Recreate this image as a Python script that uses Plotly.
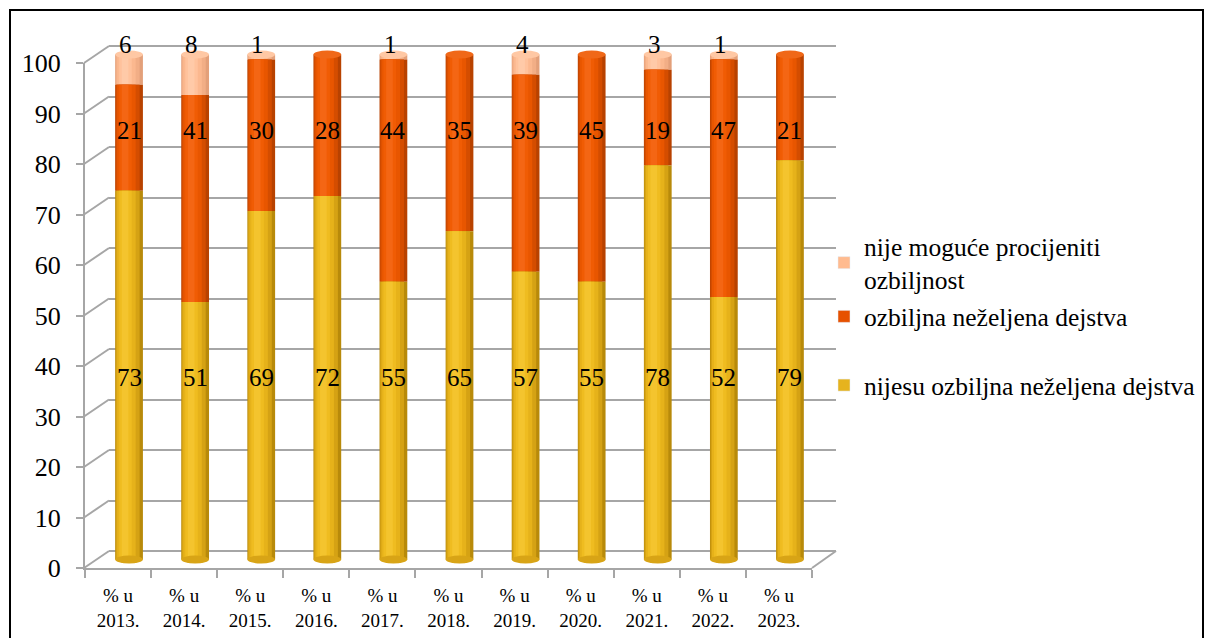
import plotly.graph_objects as go

# ---------------- data ----------------
categories = ["% u<br>2013.", "% u<br>2014.", "% u<br>2015.", "% u<br>2016.", "% u<br>2017.",
              "% u<br>2018.", "% u<br>2019.", "% u<br>2020.", "% u<br>2021.", "% u<br>2022.",
              "% u<br>2023."]
nijesu_ozbiljna = [73, 51, 69, 72, 55, 65, 57, 55, 78, 52, 79]
ozbiljna = [21, 41, 30, 28, 44, 35, 39, 45, 19, 47, 21]
nije_moguce = [6, 8, 1, 0, 1, 0, 4, 0, 3, 1, 0]
y_ticks = [0, 10, 20, 30, 40, 50, 60, 70, 80, 90, 100]

series_names = ["nije moguće procijeniti<br>ozbiljnost", "ozbiljna neželjena dejstva",
                "nijesu ozbiljna neželjena dejstva"]

# ---------------- geometry helpers (pixels -> paper) ----------------
W, H = 1206, 638
FONT = '"Liberation Serif", "Times New Roman", Times, serif'
GRID = "#A6A6A6"


def px(x):
    return x / W


def py(y):
    return 1 - y / H


def ydom(lo, hi, p0, p100):
    s = (p0 - p100) / 100.0
    return [py(p0 - lo * s), py(p0 - hi * s)]


FRONT = dict(x0=85, x1=812, p0=568, p100=63)
BARS = dict(x0=96, x1=823, p0=559.5, p100=54.5)
BACK = dict(x0=109, x1=836, p0=551, p100=46)

n = len(categories)
xs = list(range(n))

fig = go.Figure()

# invisible trace for the back-wall grid subplot (xy)
fig.add_trace(go.Scatter(x=[0], y=[0], xaxis="x", yaxis="y", mode="markers",
                         marker=dict(opacity=0), showlegend=False, hoverinfo="skip"))

# ---------------- cylinders (stacked bars with shading layers) ----------------
bw = 0.42
base_y = [0] * n
base_o = list(nijesu_ozbiljna)
base_p = [a + b for a, b in zip(nijesu_ozbiljna, ozbiljna)]

palettes = {
    "p": ["#E3A07A", "#F2AE86", "#FBB88F", "#FFC29C", "#FFCAA8"],
    "o": ["#B84200", "#D44D00", "#E85600", "#F05C04", "#F46614"],
    "y": ["#B88A0A", "#D5A214", "#E6B21A", "#EFBC20", "#F4C42E"],
}
# (offset, width) from left edge of cylinder in bar units
layers = [(-0.21, 0.42), (-0.20, 0.36), (-0.18, 0.28), (-0.15, 0.19), (-0.11, 0.10)]
legend_col = {"p": "#FFBB8F", "o": "#E65100", "y": "#E6B31E"}

for key, vals, base, name, leg in [("p", nije_moguce, base_p, series_names[0], "legend"),
                                  ("o", ozbiljna, base_o, series_names[1], "legend"),
                                  ("y", nijesu_ozbiljna, base_y, series_names[2], "legend2")]:
    for li, (off, wid) in enumerate(layers):
        fig.add_trace(go.Bar(
            x=xs, y=vals, base=base, xaxis="x2", yaxis="y2",
            offset=off, width=wid,
            marker=dict(color=palettes[key][li], line=dict(width=0)),
            name=name, legendgroup=key, legend=leg,
            showlegend=False, hoverinfo="skip"))
    # legend entry
    fig.add_trace(go.Bar(x=[None], y=[None], xaxis="x2", yaxis="y2", name=name,
                         marker=dict(color=legend_col[key]), legendgroup=key,
                         legend=leg, showlegend=True))

shapes = []
# top & bottom ellipses of cylinders
for i in xs:
    top_col = "#FFC8A4" if nije_moguce[i] > 0 else "#F06818"
    top_val = nijesu_ozbiljna[i] + ozbiljna[i] + nije_moguce[i]
    shapes.append(dict(type="circle", xref="x2", yref="y2", x0=i - bw / 2, x1=i + bw / 2,
                       ysizemode="pixel", yanchor=top_val, y0=-4, y1=4,
                       fillcolor=top_col, line=dict(width=0), layer="above"))
    shapes.append(dict(type="circle", xref="x2", yref="y2", x0=i - bw / 2, x1=i + bw / 2,
                       ysizemode="pixel", yanchor=0, y0=-4, y1=4,
                       fillcolor="#D8A416", line=dict(width=0), layer="above"))

# left wall diagonals
fs = (FRONT["p0"] - FRONT["p100"]) / 100.0
bs = (BACK["p0"] - BACK["p100"]) / 100.0
for v in y_ticks:
    shapes.append(dict(type="line", xref="paper", yref="paper",
                       x0=px(FRONT["x0"] - 1), y0=py(FRONT["p0"] - v * fs),
                       x1=px(BACK["x0"]), y1=py(BACK["p0"] - v * bs),
                       line=dict(color=GRID, width=2), layer="below"))
# floor right edge
shapes.append(dict(type="line", xref="paper", yref="paper",
                   x0=px(FRONT["x1"]), y0=py(FRONT["p0"]),
                   x1=px(BACK["x1"]), y1=py(BACK["p0"]),
                   line=dict(color=GRID, width=2), layer="below"))
# outer border
shapes.append(dict(type="rect", xref="paper", yref="paper",
                   x0=px(10), x1=px(1203), y0=py(648), y1=py(10),
                   line=dict(color="black", width=2), layer="above"))

# ---------------- data labels ----------------
LBL = dict(family=FONT, size=25, color="black")
annotations = []
for i in xs:
    annotations.append(dict(x=i, y=36, xref="x2", yref="y2", text=str(nijesu_ozbiljna[i]),
                            showarrow=False, font=LBL))
    annotations.append(dict(x=i, y=85, xref="x2", yref="y2", text=str(ozbiljna[i]),
                            showarrow=False, font=LBL))
    if nije_moguce[i] > 0:
        annotations.append(dict(x=i - 0.05, y=102, xref="x2", yref="y2", text=str(nije_moguce[i]),
                                showarrow=False, font=LBL))

# ---------------- layout ----------------
fig.update_layout(
    width=W, height=H,
    margin=dict(l=0, r=0, t=0, b=0, pad=0),
    paper_bgcolor="white", plot_bgcolor="rgba(0,0,0,0)",
    barmode="overlay",
    font=dict(family=FONT, color="black"),
    # back wall grid
    xaxis=dict(domain=[px(BACK["x0"]), px(BACK["x1"])], range=[-0.5, n - 0.5],
               visible=False, fixedrange=True, automargin=False),
    yaxis=dict(domain=ydom(-1, 101, BACK["p0"], BACK["p100"]), range=[-1, 101],
               tickvals=y_ticks, showticklabels=False, showgrid=True, automargin=False,
               gridcolor=GRID, gridwidth=2, zeroline=False, showline=False, ticks=""),
    # bars
    xaxis2=dict(domain=[px(BARS["x0"]), px(BARS["x1"])], range=[-0.5, n - 0.5],
                visible=False, anchor="y2", automargin=False),
    yaxis2=dict(domain=ydom(-3, 104, BARS["p0"], BARS["p100"]), range=[-3, 104],
                visible=False, anchor="x2", automargin=False),
    # front axes with labels
    xaxis3=dict(domain=[px(FRONT["x0"]), px(FRONT["x1"])], range=[-0.5, n - 0.5],
                anchor="y3", tickvals=xs, ticktext=categories, ticks="", automargin=False,
                showline=True, linecolor=GRID, linewidth=2, showgrid=False, zeroline=False,
                ticklabelstandoff=9,
                tickfont=dict(family=FONT, size=19, color="black"),
                minor=dict(tickvals=[i - 0.5 for i in range(n + 1)], ticks="outside",
                           ticklen=8, tickcolor=GRID, tickwidth=2)),
    yaxis3=dict(domain=ydom(0, 100, FRONT["p0"], FRONT["p100"]), range=[0, 100],
                anchor="x3", tickvals=y_ticks, ticks="outside", ticklen=7, automargin=False,
                tickcolor=GRID, tickwidth=2, showline=True, linecolor=GRID, linewidth=2,
                showgrid=False, zeroline=False, ticklabelstandoff=10,
                tickfont=dict(family=FONT, size=26, color="black")),
    legend=dict(x=px(824), y=py(223), xanchor="left", yanchor="top",
                font=dict(family=FONT, size=25.5, color="black"),
                bgcolor="rgba(0,0,0,0)", tracegroupgap=1, itemclick=False),
    legend2=dict(x=px(824), y=py(362), xanchor="left", yanchor="top",
                 font=dict(family=FONT, size=25.5, color="black"),
                 bgcolor="rgba(0,0,0,0)", itemclick=False),
    shapes=shapes,
    annotations=annotations,
    showlegend=True,
)

# invisible trace for front axes
fig.add_trace(go.Scatter(x=[0], y=[0], xaxis="x3", yaxis="y3", mode="markers",
                         marker=dict(opacity=0), showlegend=False, hoverinfo="skip"))

fig.write_html("out.html",
               post_script="document.body.style.overflow='hidden';"
                           "document.documentElement.style.overflow='hidden';")
